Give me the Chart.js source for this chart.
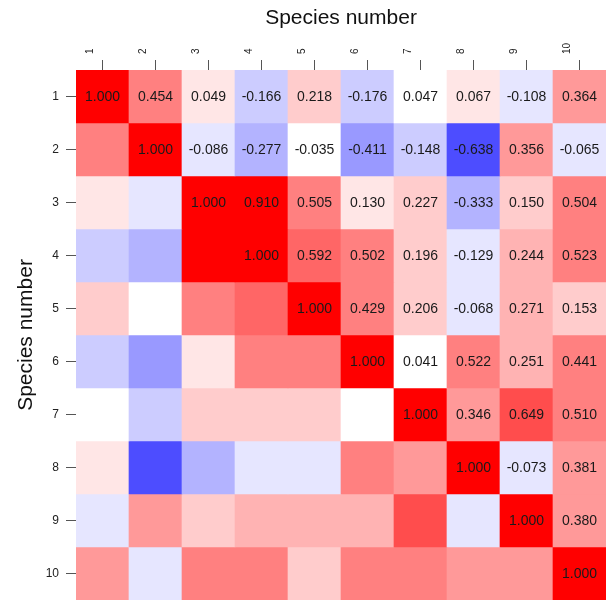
<!DOCTYPE html>
<html>
<head>
<meta charset="utf-8">
<script src="https://cdn.jsdelivr.net/npm/chart.js@4.4.1/dist/chart.umd.min.js"></script>
<style>
  html, body { margin: 0; padding: 0; background: #fff; }
  #wrap { width: 606px; height: 600px; position: relative; }
</style>
</head>
<body>
<div id="wrap"><canvas id="chart"></canvas></div>
<script>
// Species labels (rows and columns)
const species = ['1', '2', '3', '4', '5', '6', '7', '8', '9', '10'];

// Upper triangle of the correlation matrix, row i starts at column i
const corrRow1 = [1.000, 0.454, 0.049, -0.166, 0.218, -0.176, 0.047, 0.067, -0.108, 0.364];
const corrRow2 = [1.000, -0.086, -0.277, -0.035, -0.411, -0.148, -0.638, 0.356, -0.065];
const corrRow3 = [1.000, 0.910, 0.505, 0.130, 0.227, -0.333, 0.150, 0.504];
const corrRow4 = [1.000, 0.592, 0.502, 0.196, -0.129, 0.244, 0.523];
const corrRow5 = [1.000, 0.429, 0.206, -0.068, 0.271, 0.153];
const corrRow6 = [1.000, 0.041, 0.522, 0.251, 0.441];
const corrRow7 = [1.000, 0.346, 0.649, 0.510];
const corrRow8 = [1.000, -0.073, 0.381];
const corrRow9 = [1.000, 0.380];
const corrRow10 = [1.000];

const upperRows = [corrRow1, corrRow2, corrRow3, corrRow4, corrRow5,
  corrRow6, corrRow7, corrRow8, corrRow9, corrRow10];

// value at (row, col), mirrored for the lower triangle
function corr(r, c) {
  return r <= c ? upperRows[r][c - r] : upperRows[c][r - c];
}

// blue-white-red palette with 21 levels over [-1, 1]
const N_LEVELS = 21;
function corrColor(v) {
  let k = Math.floor((v + 1) * N_LEVELS / 2);
  k = Math.max(0, Math.min(N_LEVELS - 1, k));
  const mid = (N_LEVELS - 1) / 2;
  const t = Math.abs(k - mid) / mid;
  const c = Math.round(255 * (1 - t));
  return k >= mid ? `rgb(255,${c},${c})` : `rgb(${c},${c},255)`;
}

const FONT = "'Liberation Sans', Arial, Helvetica, sans-serif";
const AXIS_COLOR = '#555555';

const datasets = species.map((name, r) => ({
  label: 'row ' + name,
  data: species.map(() => [r, r + 1]),
  backgroundColor: species.map((_, c) => corrColor(corr(r, c))),
  borderWidth: 0,
  grouped: false,
  barPercentage: 1,
  categoryPercentage: 1,
}));

// writes the values into the upper triangle cells
const cellText = {
  id: 'cellText',
  afterDatasetsDraw(chart) {
    const ctx = chart.ctx;
    ctx.save();
    ctx.font = `14px ${FONT}`;
    ctx.fillStyle = '#1a1a1a';
    ctx.textAlign = 'center';
    ctx.textBaseline = 'middle';
    species.forEach((_, r) => {
      const meta = chart.getDatasetMeta(r);
      for (let c = r; c < species.length; c++) {
        const el = meta.data[c];
        ctx.fillText(corr(r, c).toFixed(3), el.x, (el.y + el.base) / 2 + 1);
      }
    });
    ctx.restore();
  },
};

new Chart(document.getElementById('chart'), {
  type: 'bar',
  data: { labels: species, datasets },
  options: {
    responsive: true,
    maintainAspectRatio: false,
    animation: false,
    events: [],
    layout: { padding: 0 },
    plugins: {
      legend: { display: false },
      tooltip: { enabled: false },
    },
    scales: {
      x: {
        type: 'category',
        position: 'top',
        offset: true,
        grid: {
          offset: false,
          drawOnChartArea: false,
          drawTicks: true,
          tickLength: 10,
          tickColor: AXIS_COLOR,
          tickWidth: 1,
        },
        border: { display: true, color: AXIS_COLOR, width: 1 },
        ticks: {
          minRotation: 90,
          maxRotation: 90,
          padding: 6,
          color: '#222',
          font: { family: FONT, size: 10 },
        },
        title: {
          display: true,
          text: 'Species number',
          color: '#111',
          font: { family: FONT, size: 21 },
          padding: { top: 6, bottom: 0 },
        },
        afterFit(scale) {
          scale.height = 70;
          scale.paddingLeft = 0;
          scale.paddingRight = 0;
        },
      },
      y: {
        type: 'linear',
        min: 0,
        max: species.length,
        reverse: true,
        afterBuildTicks(axis) {
          axis.ticks = species.map((_, i) => ({ value: i + 0.5 }));
        },
        grid: {
          drawOnChartArea: false,
          drawTicks: true,
          tickLength: 10,
          tickColor: AXIS_COLOR,
          tickWidth: 1,
        },
        border: { display: true, color: AXIS_COLOR, width: 1 },
        ticks: {
          padding: 7,
          color: '#222',
          font: { family: FONT, size: 12 },
          callback: (v) => species[Math.floor(v)],
        },
        title: {
          display: true,
          text: 'Species number',
          color: '#111',
          font: { family: FONT, size: 21 },
          padding: { top: 14, bottom: 0 },
        },
        afterFit(scale) {
          scale.width = 76;
          scale.paddingTop = 0;
          scale.paddingBottom = 0;
        },
      },
    },
  },
  plugins: [cellText],
});
</script>
</body>
</html>
